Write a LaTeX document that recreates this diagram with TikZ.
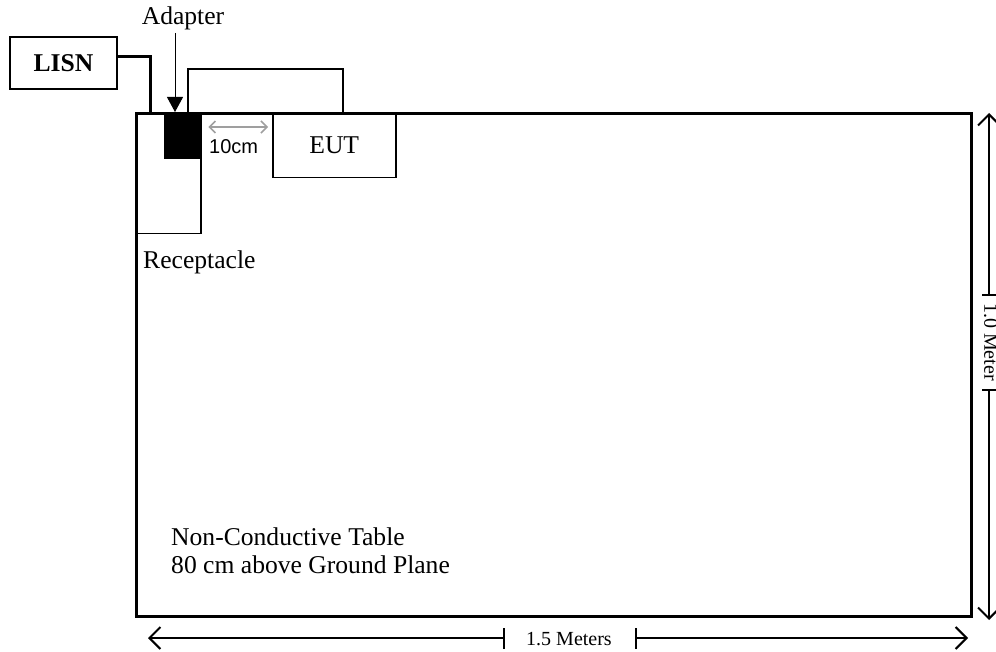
\documentclass[tikz,border=0pt]{standalone}
\usepackage{fontspec}
\setmainfont{Liberation Serif}
\newfontfamily\arialfont{Liberation Sans}
\usetikzlibrary{arrows.meta}

\begin{document}
\begin{tikzpicture}[x=1pt,y=-1pt,
	>={Straight Barb[length=11pt,width=22pt,line width=2pt]},
	box/.style={draw,line width=1.5pt,inner sep=0pt},
	lbl/.style={font=\fontsize{25.6}{28}\selectfont,inner sep=0pt},
	small/.style={font=\fontsize{20}{22}\selectfont,inner sep=0pt},
	dimline/.style={line width=1.3pt}
	]
	\useasboundingbox (0,0) rectangle (996,652);
	\def\tabL{135}
	\def\tabT{112}
	% receptacle, adapter and EUT on the table
	\node[box,anchor=north west,minimum width=65,minimum height=121] (receptacle) at (\tabL,\tabT) {};
	\node[fill=black,anchor=north west,inner sep=0pt,minimum width=38,minimum height=47] (adapter) at (164,\tabT) {};
	\node[box,lbl,anchor=north west,minimum width=123,minimum height=65] (eut) at (272,\tabT) {EUT};
	\node[draw,line width=3pt,anchor=north west,minimum width=835,minimum height=503] (table) at (\tabL,\tabT) {};
	\node[box,lbl,minimum width=107,minimum height=52] (lisn) at (63.5,63) {\textbf{LISN}};
	% cords
	\coordinate (lisnin) at (150,\tabT);
	\draw[line width=3pt] ([yshift=6pt]lisn.east) -| (lisnin);
	\coordinate (plug) at (188,\tabT);
	\draw[line width=1.5pt] (plug) |- (343,69) -- (eut.north -| 343,0);
	% labels
	\node[lbl,anchor=base] (adaptertxt) at (183,25) {Adapter};
	\coordinate (adapterarr) at (175,33);
	\draw[line width=1pt,-{Triangle[length=15pt,width=16pt]}] (adapterarr) -- (adapterarr |- adapter.north);
	\draw[gray!75,line width=1.5pt,{Straight Barb[length=6pt,width=12pt,line width=1.5pt]}-{Straight Barb[length=6pt,width=12pt,line width=1.5pt]}] ([xshift=6pt]adapter.north east |- 0,127) -- ([xshift=-4pt]eut.west |- 0,127);
	\node[small,font=\arialfont\fontsize{20}{22}\selectfont,anchor=base west] (tencm) at (209,154) {10cm};
	\node[lbl,anchor=base west] (receptacletxt) at (143,269) {Receptacle};
	\node[lbl,anchor=base west] (tabletxt) at (171,545) {Non-Conductive Table};
	\node[lbl,anchor=base west] (groundtxt) at (171,573) {80 cm above Ground Plane};
	% 1.5 m
	\node[small,anchor=base] (widthtxt) at (569,645) {1.5 Meters};
	\coordinate (wl) at (148,638);
	\coordinate (wr) at (968,638);
	\draw[dimline,<-] (wl) -- (504,638) coordinate (wl1);
	\draw[dimline,->] (636,638) coordinate (wr1) -- (wr);
	\draw[dimline] ([yshift=10pt]wl1) -- ([yshift=-11pt]wl1);
	\draw[dimline] ([yshift=10pt]wr1) -- ([yshift=-11pt]wr1);
	% 1.0 m
	\node[small,rotate=-90,anchor=south] (heighttxt) at (984,342) {1.0 Meter};
	\coordinate (ht) at (989,113);
	\coordinate (hb) at (989,620);
	\draw[dimline,<-] (ht) -- (989,295) coordinate (ht1);
	\draw[dimline,->] (989,390) coordinate (hb1) -- (hb);
	\draw[dimline] ([xshift=-7pt]ht1) -- ([xshift=7pt]ht1);
	\draw[dimline] ([xshift=-7pt]hb1) -- ([xshift=7pt]hb1);
\end{tikzpicture}
\end{document}
